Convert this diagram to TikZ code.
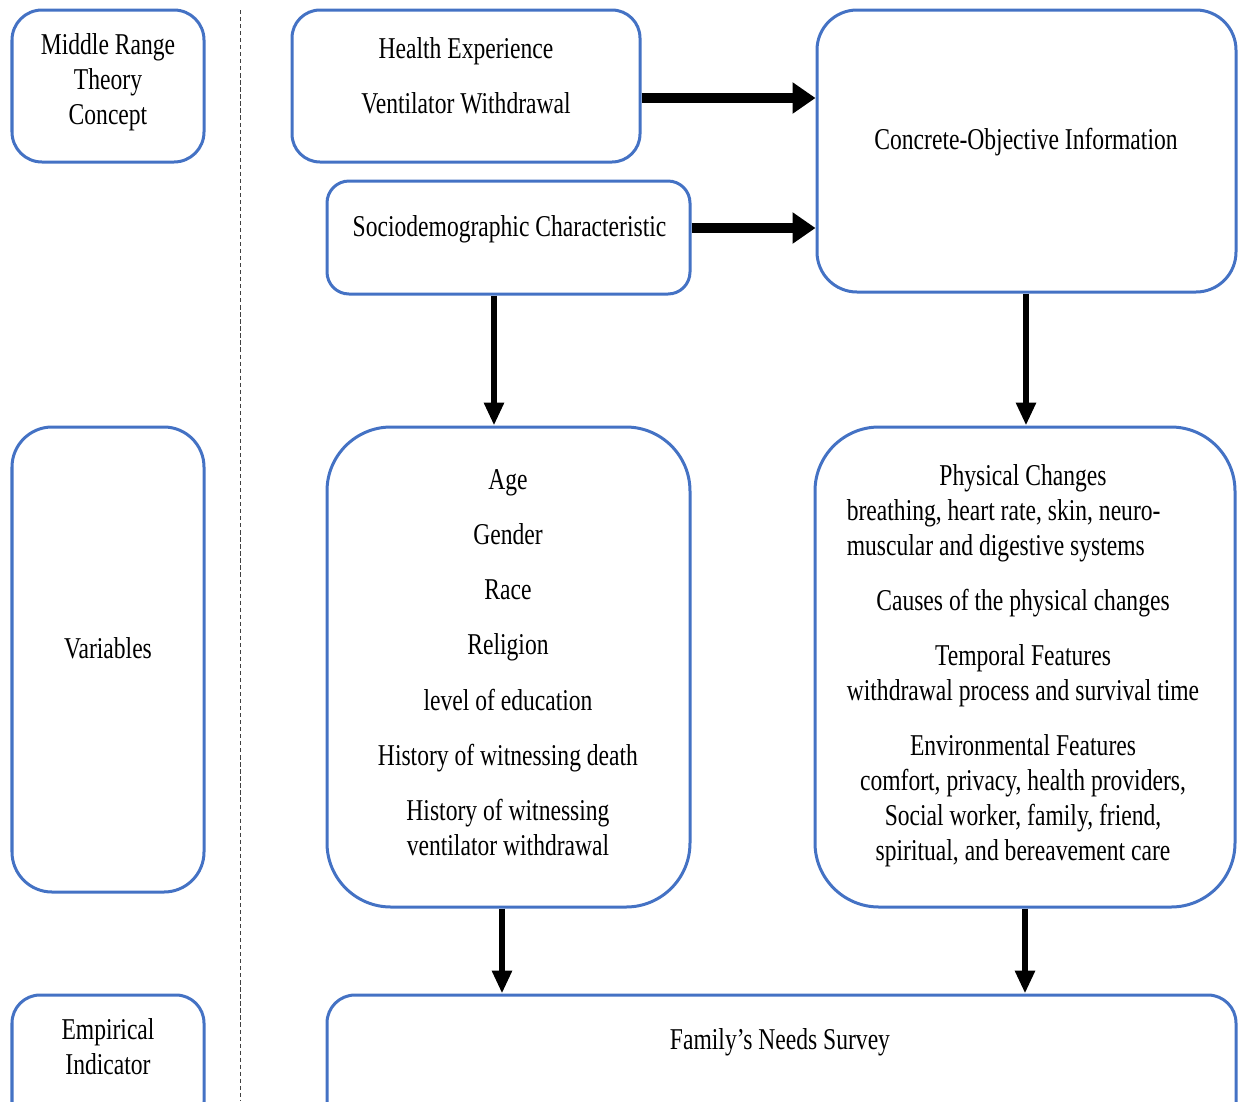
\documentclass[tikz,border=0pt]{standalone}
\usepackage{fontspec}
\setmainfont{Liberation Serif}[FakeStretch=0.78]
\usetikzlibrary{arrows.meta,fit}
\definecolor{frameblue}{RGB}{68,114,196}
\begin{document}
\begin{tikzpicture}[x=0.025cm, y=-0.025cm,
  every node/.style={font=\fontsize{21.5pt}{24.8pt}\selectfont},
  frame/.style={draw=frameblue, line width=0.075cm, inner sep=0pt},
  txt/.style={align=center, inner sep=0pt},
  fatarrow/.style={line width=0.25cm, -{Triangle[length=0.575cm,width=0.75cm]}},
  downarrow/.style={line width=0.15cm, -{Triangle[length=0.575cm,width=0.475cm]}}]
\clip (0,0) rectangle (1239,1101);
% separator
\draw[line width=0.6pt, black!75, dash pattern=on 3pt off 2pt] (240,10) -- (240,1101);
% left column
\node[frame, rounded corners=0.75cm, fit={(12,10) (204,162)}] (mrt) {};
\node[txt] (mrt-t) at (108,82) {Middle Range\\Theory\\Concept};
\node[frame, rounded corners=1cm, fit={(12,427) (204,892)}] (var) {};
\node[txt] (var-t) at (108,648) {Variables};
\node[frame, rounded corners=0.7cm, fit={(12,995) (204,1130)}] (emp) {};
\node[txt] (emp-t) at (108,1046.5) {Empirical\\Indicator};
% concepts
\node[frame, rounded corners=0.7cm, fit={(292,10) (640,162)}] (hexp) {};
\node[txt] (hexp-t) at (466,76) {Health Experience\\[14.5pt]Ventilator Withdrawal};
\node[frame, rounded corners=0.55cm, fit={(327,181) (690,294)}] (socio) {};
\node[txt] (socio-t) at (509.5,229) {Sociodemographic Characteristic};
\node[frame, rounded corners=1cm, fit={(817,10) (1236,292)}] (coi) {};
\node[txt] (coi-t) at (1026,142) {Concrete-Objective Information};
% variables
\node[frame, rounded corners=1.6cm, fit={(327,427) (690,907)}] (socv) {};
\node[txt] (socv-t) at (508,662.5) {Age\\[14.5pt]Gender\\[14.5pt]Race\\[14.5pt]Religion\\[14.5pt]level of education\\[14.5pt]History of witnessing death\\[14.5pt]History of witnessing\\ventilator withdrawal};
\node[frame, rounded corners=1.6cm, fit={(815,427) (1235,907)}] (phys) {};
\node[txt] (phys-t) at (1023,665.5) {Physical Changes\\
\rlap{breathing, heart rate, skin, neuro-}\phantom{withdrawal process and survival time}\\
\rlap{muscular and digestive systems}\phantom{withdrawal process and survival time}\\[14.5pt]
Causes of the physical changes\\[14.5pt]
Temporal Features\\
withdrawal process and survival time\\[14.5pt]
Environmental Features\\
comfort, privacy, health providers,\\
Social worker, family, friend,\\
spiritual, and bereavement care};
% indicator
\node[frame, rounded corners=0.7cm, fit={(327,995) (1236,1130)}] (fns) {};
\node[txt] (fns-t) at (780,1042) {Family’s Needs Survey};
% arrows
\draw[fatarrow] (hexp.east |- 0,98) -- (coi.west |- 0,98);
\draw[fatarrow] (socio.east |- 0,228) -- (coi.west |- 0,228);
\foreach \from/\to/\x in {socio/socv/494, coi/phys/1026, socv/fns/502, phys/fns/1025}
  \draw[downarrow] (\from.south -| \x,0) -- (\to.north -| \x,0);
\end{tikzpicture}
\end{document}
